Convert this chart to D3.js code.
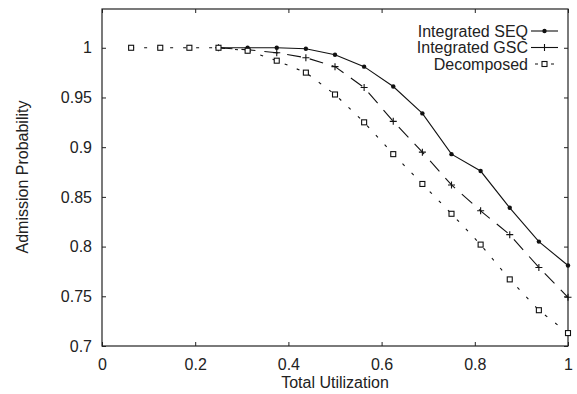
<!DOCTYPE html>
<html lang="en">
<head>
	<meta charset="UTF-8">
	<title>Admission Probability vs Total Utilization</title>
	<script src="https://d3js.org/d3.v7.min.js"></script>
	<style>
		body { margin: 0; background: #fff; }
		text { font-family: "Liberation Sans", Arial, Helvetica, sans-serif; fill: #222; }
	</style>
</head>
<body>

	<svg width="577" height="394"></svg>

	<script>

		// data
		var utilAll = [0.0625, 0.125, 0.1875, 0.25, 0.3125, 0.375, 0.4375, 0.5, 0.5625, 0.625, 0.6875, 0.75, 0.8125, 0.875, 0.9375, 1.0];
		var utilIntegrated = [0.25, 0.3125, 0.375, 0.4375, 0.5, 0.5625, 0.625, 0.6875, 0.75, 0.8125, 0.875, 0.9375, 1.0];

		var seqValues = [1.0, 1.0, 1.0, 0.999, 0.993, 0.981, 0.961, 0.934, 0.893, 0.876, 0.839, 0.805, 0.781];
		var gscValues = [1.0, 0.998, 0.995, 0.990, 0.981, 0.960, 0.926, 0.895, 0.862, 0.836, 0.812, 0.779, 0.749];
		var decValues = [1.0, 1.0, 1.0, 1.0, 0.997, 0.987, 0.975, 0.953, 0.925, 0.893, 0.863, 0.833, 0.802, 0.767, 0.736, 0.713];

		var seriesNames = ["Integrated SEQ", "Integrated GSC", "Decomposed"];
		var xTicks = [0, 0.2, 0.4, 0.6, 0.8, 1];
		var yTicks = [0.7, 0.75, 0.8, 0.85, 0.9, 0.95, 1];

		var margin = {top: 9, right: 9, bottom: 48, left: 102};
		var width = 577 - margin.left - margin.right;
		var height = 394 - margin.top - margin.bottom;

		var svg = d3.select("svg")
			.append("g")
			.attr("transform", "translate(" + margin.left + "," + margin.top + ")");

		var xScale = d3.scaleLinear()
			.domain([0, 1])
			.range([0, width]);

		var yScale = d3.scaleLinear()
			.domain([0.7, 1.039])
			.range([height, 0]);

		// build the series
		var series = [
			{name: seriesNames[0], dash: null, marker: "dot",
				points: utilIntegrated.map(function(u, i){ return {x: u, y: seqValues[i]}; })},
			{name: seriesNames[1], dash: "14,9", marker: "plus",
				points: utilIntegrated.map(function(u, i){ return {x: u, y: gscValues[i]}; })},
			{name: seriesNames[2], dash: "3,10", marker: "square",
				points: utilAll.map(function(u, i){ return {x: u, y: decValues[i]}; })}
		];

		// axes, gnuplot style ticks pointing in
		function styleAxis(g){
			g.select(".domain").remove();
			g.selectAll(".tick line").attr("stroke", "#222");
			g.selectAll(".tick text").style("font-size", "16px").attr("fill", "#222");
		}

		svg.append("g")
			.attr("transform", "translate(0," + height + ")")
			.call(d3.axisBottom(xScale).tickValues(xTicks).tickSizeInner(-4).tickSizeOuter(0).tickPadding(13)
				.tickFormat(function(d){ return String(d); }))
			.call(styleAxis);

		svg.append("g")
			.call(d3.axisLeft(yScale).tickValues(yTicks).tickSizeInner(-4).tickSizeOuter(0).tickPadding(10)
				.tickFormat(function(d){ return String(d); }))
			.call(styleAxis);

		svg.append("g")
			.call(d3.axisTop(xScale).tickValues(xTicks).tickSizeInner(-4).tickSizeOuter(0).tickFormat(""))
			.call(styleAxis);

		svg.append("g")
			.attr("transform", "translate(" + width + ",0)")
			.call(d3.axisRight(yScale).tickValues(yTicks).tickSizeInner(-4).tickSizeOuter(0).tickFormat(""))
			.call(styleAxis);

		// frame
		svg.append("rect")
			.attr("width", width)
			.attr("height", height)
			.attr("fill", "none")
			.attr("stroke", "#222")
			.attr("stroke-width", 1.2);

		// axis labels
		svg.append("text")
			.attr("x", width / 2)
			.attr("y", height + 42)
			.attr("text-anchor", "middle")
			.style("font-size", "16px")
			.text("Total Utilization");

		svg.append("text")
			.attr("transform", "rotate(-90)")
			.attr("x", -(yScale(0.87)))
			.attr("y", -74)
			.attr("text-anchor", "middle")
			.style("font-size", "16px")
			.text("Admission Probability");

		var line = d3.line()
			.x(function(d){ return xScale(d.x); })
			.y(function(d){ return yScale(d.y); });

		function drawMarker(g, type){
			if(type == "dot"){
				g.append("circle").attr("r", 2.2).attr("fill", "#111");
			} else if(type == "plus"){
				g.append("path").attr("d", "M-3.5,0H3.5M0,-3.5V3.5").attr("stroke", "#111").attr("stroke-width", 1.1);
			} else {
				g.append("rect").attr("x", -2.5).attr("y", -2.5).attr("width", 5).attr("height", 5)
					.attr("fill", "#fff").attr("stroke", "#111").attr("stroke-width", 1.1);
			}
		}

		// lines and markers
		series.forEach(function(s){
			svg.append("path")
				.datum(s.points)
				.attr("fill", "none")
				.attr("stroke", "#111")
				.attr("stroke-width", 1.1)
				.attr("stroke-dasharray", s.dash)
				.attr("d", line);

			svg.selectAll(null)
				.data(s.points)
				.enter()
				.append("g")
				.attr("transform", function(d){ return "translate(" + xScale(d.x) + "," + yScale(d.y) + ")"; })
				.each(function(){ drawMarker(d3.select(this), s.marker); });
		});

		// legend
		var legend = svg.selectAll(".legend")
			.data(series)
			.enter()
			.append("g")
			.attr("class", "legend")
			.attr("transform", function(d, i){
				return "translate(" + (426 - margin.left) + "," + (31 - margin.top + i * 16.5) + ")";
			});

		legend.append("text")
			.attr("x", 102)
			.attr("y", 5.5)
			.attr("text-anchor", "end")
			.style("font-size", "16px")
			.text(function(d){ return d.name; });

		legend.append("line")
			.attr("x1", function(d){ return d.marker == "square" ? 109 : 105; })
			.attr("x2", function(d){ return d.marker == "square" ? 128 : 132; })
			.attr("stroke", "#111")
			.attr("stroke-width", 1.1)
			.attr("stroke-dasharray", function(d){ return d.marker == "square" ? "3,13" : null; });

		legend.each(function(d){
			var g = d3.select(this).append("g").attr("transform", "translate(118.5,0)");
			drawMarker(g, d.marker);
		});

	</script>

</body>
</html>
